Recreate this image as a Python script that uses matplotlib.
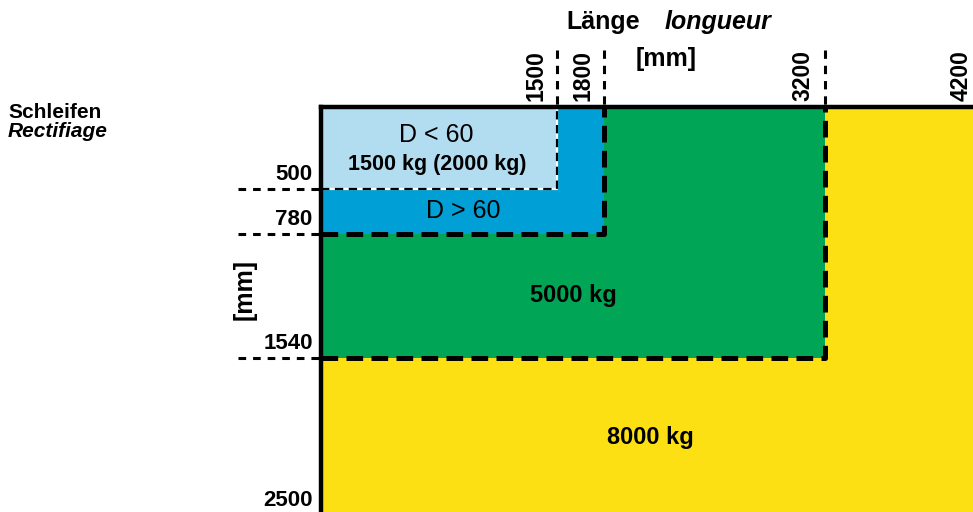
import matplotlib.pyplot as plt

plt.rcParams['font.family'] = ['Liberation Sans', 'DejaVu Sans']
plt.rcParams['lines.scale_dashes'] = False

# Bereiche: Länge x Breite [mm]
laengen = [4200, 3200, 1800, 1500]
breiten = [2500, 1540, 780, 500]
farben = ['#fce014', '#00a556', '#00a0d6', '#b2ddf1']

x_ticks = [1500, 1800, 3200, 4200]
y_ticks = [500, 780, 1540, 2500]

W, H = 973, 512
fig = plt.figure(figsize=(W / 100, H / 100), dpi=100)
ax = fig.add_axes([321 / W, -3 / H, 661 / W, 408 / H])
ax.set_xlim(0, 4200)
ax.set_ylim(2500, 0)

# Flächen (größte zuerst)
for L, B, c in zip(laengen, breiten, farben):
    ax.bar(0, B, width=L, bottom=0, align='edge', color=c, linewidth=0, zorder=1)

# gestrichelte Grenzen
for L, B in zip(laengen[1:3], breiten[1:3]):
    ax.plot([0, L, L], [B, B, 0], color='black', lw=3.6,
            linestyle=(0, (12, 6)), solid_capstyle='butt', zorder=3)
# D < 60: weiße Linie mit schwarzen Strichen
L, B = laengen[3], breiten[3]
ax.plot([0, L, L], [B, B, 0], color='white', lw=1.6, zorder=3)
ax.plot([0, L, L], [B, B, 0], color='black', lw=1.6,
        linestyle=(0, (6, 4)), zorder=4)

# Hilfslinien außerhalb
for v in x_ticks[:3]:
    ax.plot([v, v], [-350, 0], color='black', lw=2.2, linestyle=(0, (6, 5)),
            clip_on=False, zorder=3)
for v in y_ticks[:3]:
    ax.plot([-530, 0], [v, v], color='black', lw=2.2, linestyle=(0, (5.5, 5)),
            clip_on=False, zorder=3)

for s in ['right', 'bottom']:
    ax.spines[s].set_visible(False)
for s in ['top', 'left']:
    ax.spines[s].set_linewidth(3.2)
    ax.spines[s].set_zorder(5)
ax.set_xticks([])
ax.set_yticks([])

for v in x_ticks:
    ax.annotate(str(v), xy=(v, 1), xycoords=('data', 'axes fraction'),
                xytext=(-7, 4.5), textcoords='offset points', rotation=90,
                ha='right', va='bottom', fontsize=16.5, fontweight='bold',
                annotation_clip=False)
for v in y_ticks:
    ax.annotate(str(v), xy=(0, v), xycoords=('axes fraction', 'data'),
                xytext=(-6, 6.5), textcoords='offset points',
                ha='right', va='baseline', fontsize=16, fontweight='bold',
                annotation_clip=False)

# Beschriftung der Flächen
ax.text(731, 172, 'D < 60', ha='center', va='center', fontsize=18)
ax.text(737, 355, '1500 kg (2000 kg)', ha='center', va='center',
        fontsize=15.5, fontweight='bold')
ax.text(902, 637, 'D > 60', ha='center', va='center', fontsize=18)
ax.text(1601, 1158, '5000 kg', ha='center', va='center', fontsize=17,
        fontweight='bold')
ax.text(2090, 2028, '8000 kg', ha='center', va='center', fontsize=17,
        fontweight='bold')

# Achsentitel
fig.text(640 / W, 1 - 22 / H, 'Länge', ha='right', va='center',
         fontsize=18, fontweight='bold')
fig.text(665 / W, 1 - 22 / H, 'longueur', ha='left', va='center',
         fontsize=18, fontweight='bold', style='italic')
fig.text(666 / W, 1 - 59 / H, '[mm]', ha='center', va='center',
         fontsize=18, fontweight='bold')
fig.text(245 / W, 1 - 290 / H, '[mm]', ha='center', va='center',
         fontsize=18, fontweight='bold', rotation=90)
fig.text(8 / W, 1 - 118 / H, 'Schleifen', ha='left', va='baseline',
         fontsize=15, fontweight='bold')
fig.text(8 / W, 1 - 137 / H, 'Rectifiage', ha='left', va='baseline',
         fontsize=15, fontweight='bold', style='italic')

fig.savefig('out.png', dpi=100)
